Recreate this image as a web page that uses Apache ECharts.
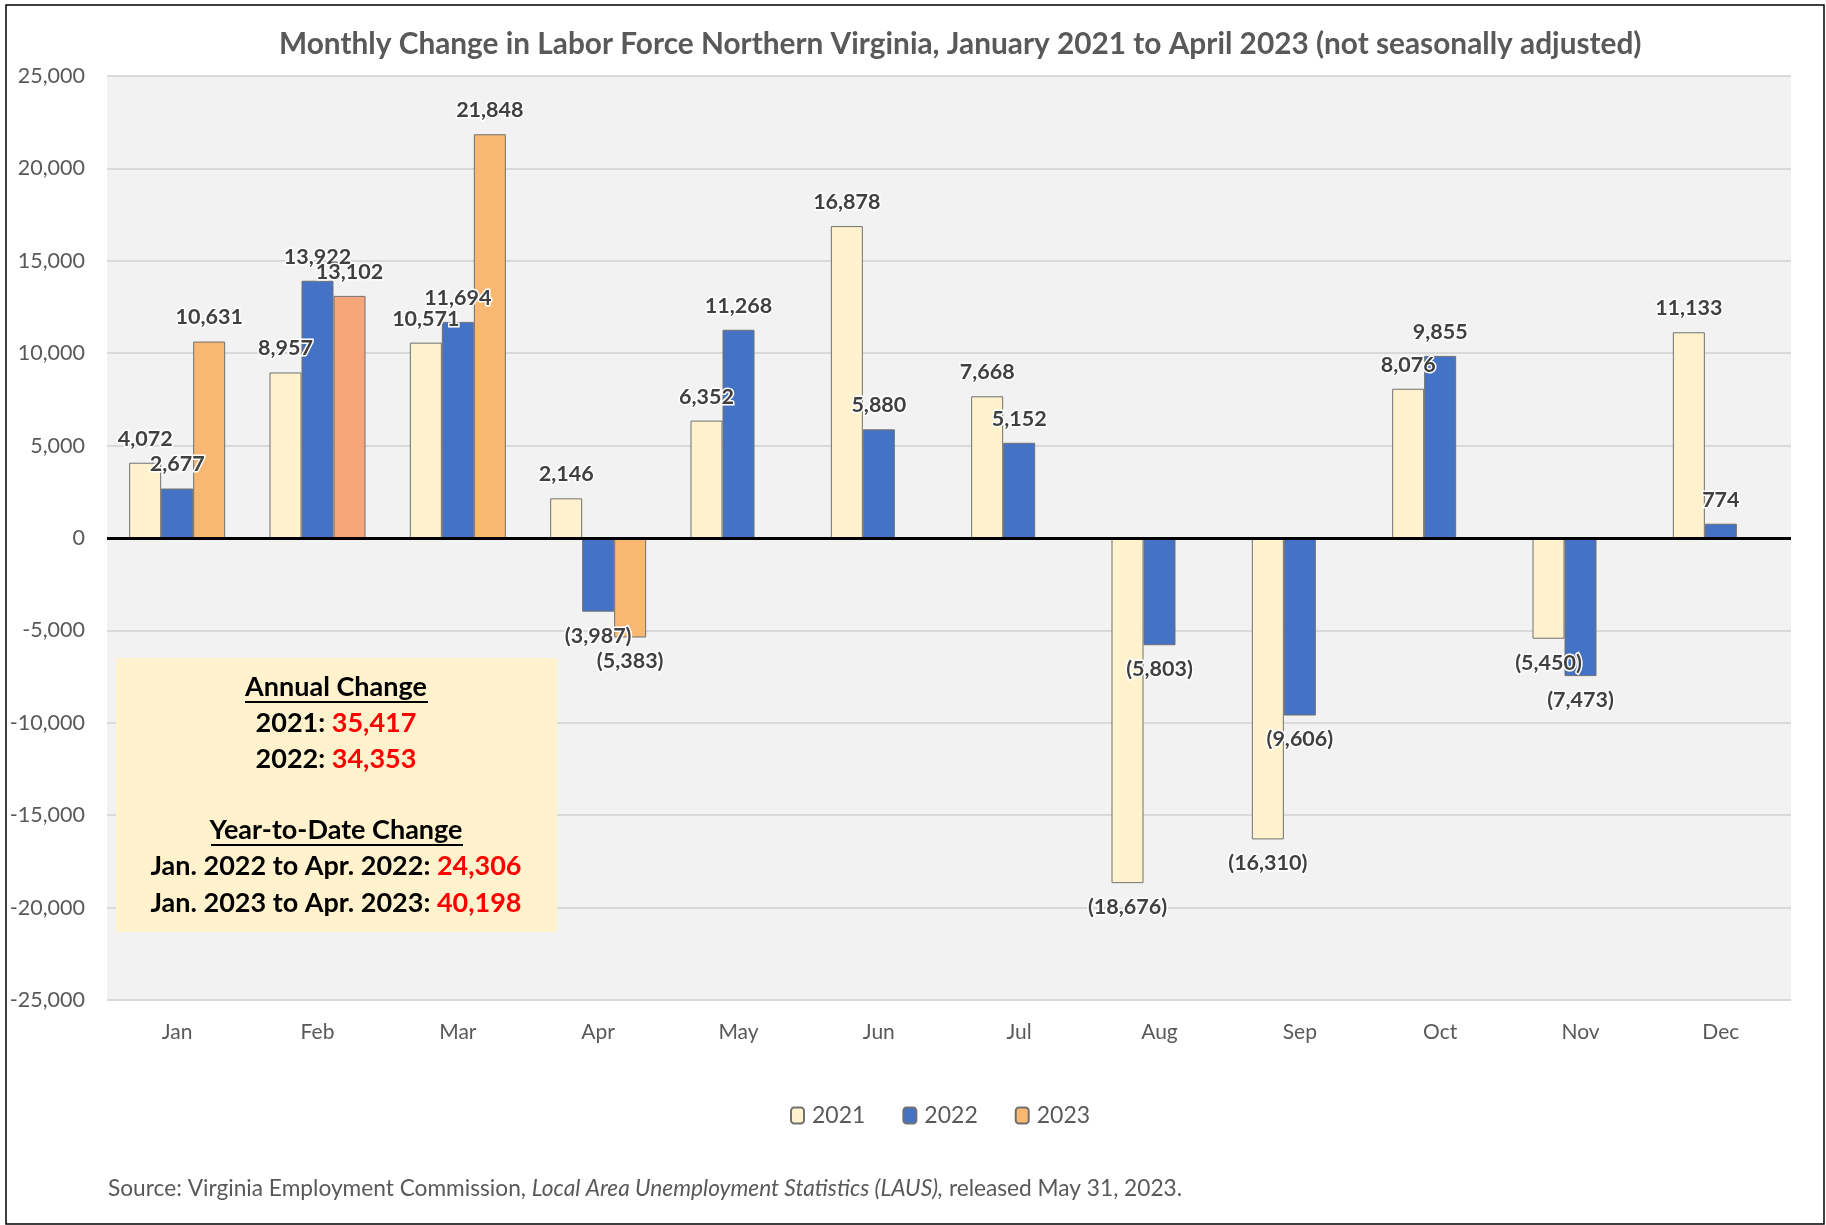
<!DOCTYPE html>
<html>
<head>
<meta charset="utf-8">
<script src="https://cdn.jsdelivr.net/npm/echarts@6/dist/echarts.min.js"></script>
<style>
html,body{margin:0;padding:0;background:#fff;}
#chart{width:1826px;height:1225px;}
</style>
</head>
<body>
<div id="chart"></div>
<script>
const months = ['Jan','Feb','Mar','Apr','May','Jun','Jul','Aug','Sep','Oct','Nov','Dec'];
const seriesNames = ['2021','2022','2023'];
const values2021 = [4072, 8957, 10571, 2146, 6352, 16878, 7668, -18676, -16310, 8076, -5450, 11133];
const values2022 = [2677, 13922, 11694, -3987, 11268, 5880, 5152, -5803, -9606, 9855, -7473, 774];
const values2023 = [10631, 13102, 21848, -5383, null, null, null, null, null, null, null, null];
const yTicks = [-25000, -20000, -15000, -10000, -5000, 0, 5000, 10000, 15000, 20000, 25000];
const colors = ['#FFF2CC', '#4472C4', '#F9B872'];
const feb2023Color = '#F7A679';
const annualLabels = ['2021: ', '2022: '];
const annualValues = ['35,417', '34,353'];
const ytdLabels = ['Jan. 2022 to Apr. 2022: ', 'Jan. 2023 to Apr. 2023: '];
const ytdValues = ['24,306', '40,198'];

const FONT = 'Lato';
const fmt = v => Math.abs(v).toLocaleString('en-US');
const labelFmt = p => p.value < 0 ? '(' + fmt(p.value) + ')' : fmt(p.value);

function buildData(arr, special) {
  return arr.map((v, i) => {
    if (v === null) return null;
    const item = { value: v, label: { position: v < 0 ? 'bottom' : 'top' } };
    if (special && special[i]) item.itemStyle = { color: special[i] };
    return item;
  });
}

const chart = echarts.init(document.getElementById('chart'), null, { renderer: 'canvas' });

function mkSeries(name, arr, color, special) {
  return {
    name: name,
    type: 'bar',
    barWidth: 32,
    barGap: '0%',
    data: buildData(arr, special),
    itemStyle: { color: color, borderColor: '#707070', borderWidth: 1 },
    label: {
      show: true,
      distance: 13,
      formatter: labelFmt,
      fontFamily: FONT,
      fontWeight: 'bold',
      fontSize: 21.5,
      color: '#404040',
      textBorderColor: '#ffffff',
      textBorderWidth: 3
    }
  };
}

const boxRich = {
  b: { fontFamily: FONT, fontWeight: 'bold', fontSize: 27, fill: '#000' },
  r: { fontFamily: FONT, fontWeight: 'bold', fontSize: 27, fill: '#FF0000' }
};
const annualTexts = annualLabels.map((l, i) => ({
  type: 'text',
  x: 336, y: 723 + i * 36,
  style: { text: '{b|' + l + '}{r|' + annualValues[i] + '}', align: 'center', verticalAlign: 'middle', rich: boxRich },
  z: 20
}));
const ytdTexts = ytdLabels.map((l, i) => ({
  type: 'text',
  x: 336, y: 866 + i * 37,
  style: { text: '{b|' + l + '}{r|' + ytdValues[i] + '}', align: 'center', verticalAlign: 'middle', rich: boxRich },
  z: 20
}));

chart.setOption({
  animation: false,
  backgroundColor: '#ffffff',
  color: colors,
  title: {
    text: 'Monthly Change in Labor Force Northern Virginia, January 2021 to April 2023 (not seasonally adjusted)',
    left: 274,
    top: 24,
    textStyle: { fontFamily: FONT, fontWeight: 'bold', fontSize: 29.8, color: '#595959' }
  },
  legend: {
    data: seriesNames,
    top: 1099,
    left: 785,
    itemWidth: 13,
    itemHeight: 16,
    itemGap: 37,
    textStyle: { fontFamily: FONT, fontSize: 23, color: '#595959', padding: [0, 0, 0, 3] }
  },
  grid: { left: 107, right: 35, top: 76, bottom: 225, containLabel: false, show: true, backgroundColor: '#F2F2F2', borderWidth: 0 },
  xAxis: {
    type: 'category',
    data: months,
    position: 'bottom',
    axisLine: { show: false },
    axisTick: { show: false },
    axisLabel: { fontFamily: FONT, fontSize: 21, color: '#595959', margin: 22 }
  },
  yAxis: {
    type: 'value',
    min: yTicks[0],
    max: yTicks[yTicks.length - 1],
    interval: 5000,
    axisLine: { show: false },
    axisTick: { show: false },
    splitLine: { lineStyle: { color: '#D9D9D9', width: 2 } },
    axisLabel: {
      fontFamily: FONT, fontSize: 21.5, color: '#595959', margin: 22,
      formatter: v => v.toLocaleString('en-US')
    }
  },
  series: [
    mkSeries('2021', values2021, colors[0]),
    mkSeries('2022', values2022, colors[1]),
    mkSeries('2023', values2023, colors[2], { 1: feb2023Color }),
    {
      type: 'line', data: [], silent: true,
      markLine: {
        symbol: 'none', silent: true, label: { show: false },
        lineStyle: { color: '#000', width: 3, type: 'solid' },
        data: [{ yAxis: 0 }]
      }
    }
  ],
  graphic: [
    { type: 'rect', shape: { x: 6, y: 5, width: 1818, height: 1219 }, style: { fill: 'none', stroke: '#000', lineWidth: 1.5 }, z: 0, silent: true },
    { type: 'rect', shape: { x: 116, y: 658, width: 441, height: 274 }, style: { fill: '#FFF2CC' }, z: 10 },
    { type: 'text', x: 336, y: 687, style: { text: 'Annual Change', align: 'center', verticalAlign: 'middle', fontFamily: FONT, fontWeight: 'bold', fontSize: 27, fill: '#000' }, z: 20 },
    { type: 'line', shape: { x1: 245, y1: 702, x2: 428, y2: 702 }, style: { stroke: '#000', lineWidth: 2 }, z: 20 },
    { type: 'text', x: 336, y: 830, style: { text: 'Year-to-Date Change', align: 'center', verticalAlign: 'middle', fontFamily: FONT, fontWeight: 'bold', fontSize: 27, fill: '#000' }, z: 20 },
    { type: 'line', shape: { x1: 211, y1: 845, x2: 463, y2: 845 }, style: { stroke: '#000', lineWidth: 2 }, z: 20 },
    ...annualTexts,
    ...ytdTexts,
    {
      type: 'text', x: 108, y: 1189,
      style: {
        text: '{n|Source: Virginia Employment Commission, }{i|Local Area Unemployment Statistics (LAUS),}{n| released May 31, 2023.}',
        verticalAlign: 'middle',
        rich: {
          n: { fontFamily: FONT, fontSize: 22.7, fill: '#595959' },
          i: { fontFamily: FONT, fontSize: 22.7, fontStyle: 'italic', fill: '#595959' }
        }
      },
      z: 20
    }
  ]
});
</script>
</body>
</html>
